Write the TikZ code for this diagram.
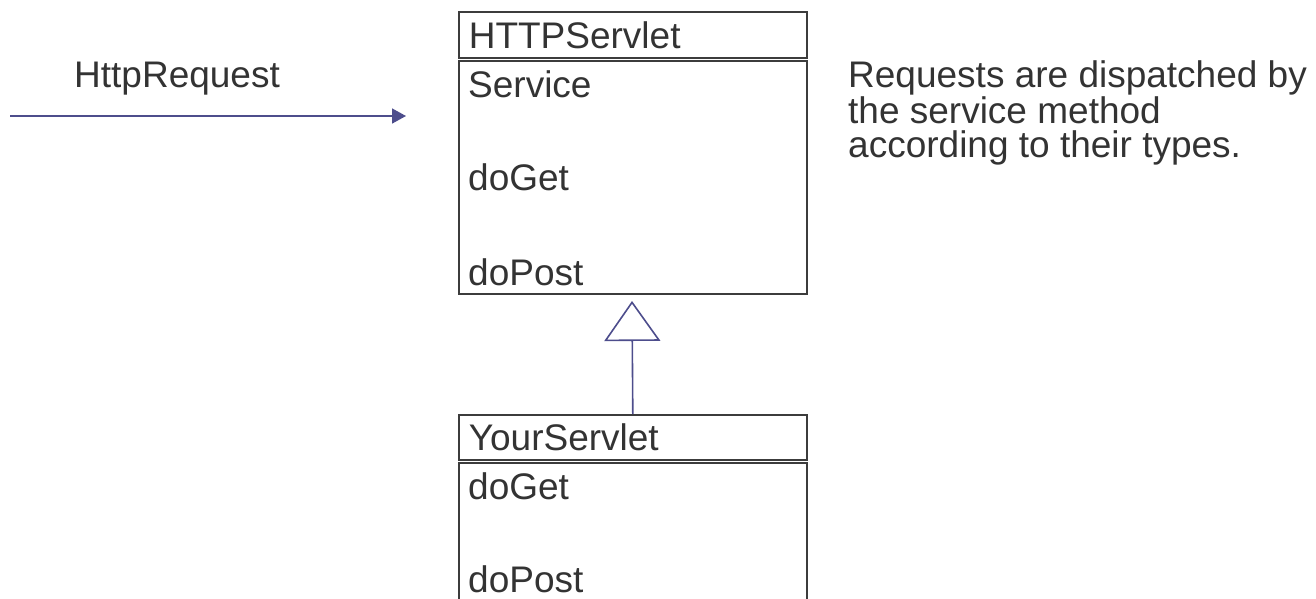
\documentclass[tikz,border=0pt]{standalone}
\usepackage{fontspec}
\setmainfont{Liberation Sans}
\usetikzlibrary{arrows.meta}
\definecolor{ink}{RGB}{51,51,51}
\definecolor{frame}{RGB}{60,60,60}
\definecolor{link}{RGB}{77,77,140}
\tikzset{
  lbl/.style={font=\fontsize{37}{34}\selectfont, text=ink, inner sep=0pt},
  hdr/.style={draw=frame, line width=1.6pt, anchor=north west, minimum width=348pt,
    minimum height=46pt, inner xsep=10pt, inner ysep=0pt, text width=328pt, align=left,
    font=\fontsize{37}{34}\selectfont, text=ink},
  body/.style={draw=frame, line width=1.6pt, anchor=north west, minimum width=348pt, inner sep=0pt},
  member/.style={lbl, anchor=base west},
  request/.style={draw=link, line width=1.6pt, -{Triangle[length=14pt,width=15pt]}},
  inherit/.style={draw=link, line width=1.6pt, -{Triangle[open,length=40pt,width=56pt,line width=1.6pt]}}
}
\begin{document}
\begin{tikzpicture}[x=1pt,y=-1pt]
  \useasboundingbox (0,0) rectangle (1316,598);

  % incoming request
  \coordinate (reqsrc) at (10,116);
  \coordinate (reqdst) at (406,116);
  \draw[request] (reqsrc) -- (reqdst);
  \node[member] (reqlbl) at (74,87) {HttpRequest};

  % base class
  \node[hdr] (hs) at (458,11) {HTTPServlet};
  \node[body, minimum height=233pt] (hsbody) at (458,60) {};
  \node[member] (hsservice) at (468,97) {Service};
  \node[member] (hsget) at (468,190) {doGet};
  \node[member] (hspost) at (468,285) {doPost};

  % subclass (runs past the lower edge)
  \node[hdr, minimum height=45pt] (ys) at (458,414) {YourServlet};
  \node[body, minimum height=160pt] (ysbody) at (458,462) {};
  \node[member] (ysget) at (468,499) {doGet};
  \node[member] (yspost) at (468,592) {doPost};

  % generalization
  \coordinate (apex) at (632,301);
  \draw[inherit] (ys.north) -- (apex);

  % note
  \node[lbl, anchor=north west, align=left] (note) at (848,60.5)
    {Requests are dispatched by\\the service method\\according to their types.};
\end{tikzpicture}
\end{document}
